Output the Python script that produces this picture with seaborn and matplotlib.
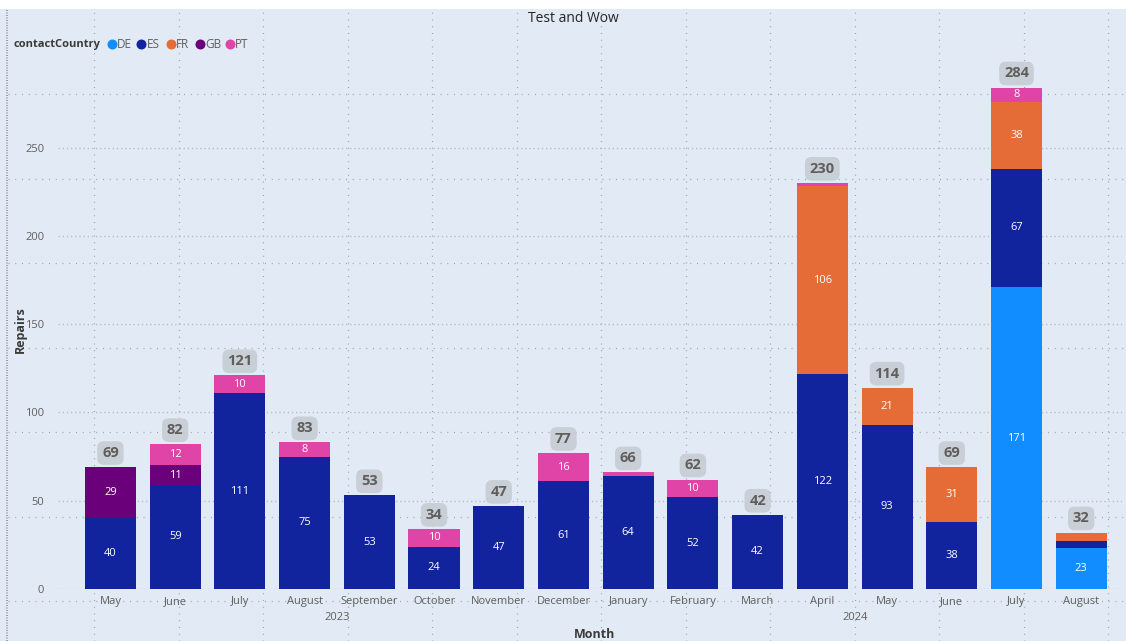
import matplotlib
matplotlib.use("Agg")
import matplotlib.pyplot as plt
from matplotlib.lines import Line2D
from matplotlib.patches import Rectangle
import numpy as np
import pandas as pd
import seaborn as sns

# ---- data -------------------------------------------------------------
periods = ["2023-05", "2023-06", "2023-07", "2023-08", "2023-09", "2023-10",
           "2023-11", "2023-12", "2024-01", "2024-02", "2024-03", "2024-04",
           "2024-05", "2024-06", "2024-07", "2024-08"]
month_labels = ["May", "June", "July", "August", "September", "October",
                "November", "December", "January", "February", "March",
                "April", "May", "June", "July", "August"]
years = ["2023", "2024"]
year_spans = [(0, 7), (8, 15)]

countries = ["DE", "ES", "FR", "GB", "PT"]
de = [0, 0, 0, 0, 0, 0, 0, 0, 0, 0, 0, 0, 0, 0, 171, 23]
es = [40, 59, 111, 75, 53, 24, 47, 61, 64, 52, 42, 122, 93, 38, 67, 4]
fr = [0, 0, 0, 0, 0, 0, 0, 0, 0, 0, 0, 106, 21, 31, 38, 5]
gb = [29, 11, 0, 0, 0, 0, 0, 0, 0, 0, 0, 0, 0, 0, 0, 0]
pt = [0, 12, 10, 8, 0, 10, 0, 16, 2, 10, 0, 2, 0, 0, 8, 0]

palette = {"DE": "#118DFF", "ES": "#12239E", "FR": "#E66C37",
           "GB": "#6B007B", "PT": "#E044A7"}

df = pd.DataFrame({"period": periods, "DE": de, "ES": es, "FR": fr,
                   "GB": gb, "PT": pt})
cum = df[countries].cumsum(axis=1)
totals = cum[countries[-1]]

# ---- figure -----------------------------------------------------------
W, H = 1126, 641
BG = "#E2EBF5"
TXT = "#605E5C"
DARK = "#252423"

sns.set_style("white")
plt.rcParams["font.family"] = ["Open Sans", "DejaVu Sans"]

fig = plt.figure(figsize=(W / 100, H / 100), dpi=100, facecolor=BG)

def px(x, y):
    return x / W, 1 - y / H

# white strip along the top and dotted frame edge
fig.add_artist(Rectangle((0, 1 - 9 / H), 1, 9 / H, transform=fig.transFigure,
                         facecolor="white", edgecolor="none", zorder=0))
fig.add_artist(Line2D([7 / W, 7 / W], [0, 1 - 10 / H], transform=fig.transFigure,
                      color="#8A9099", lw=1.2, ls=(0, (0.6, 0.9)), zorder=0))

# canvas snap grid
gpos = 9.8 + 84.5 * np.arange(0, 14)
for g in gpos:
    if 10 < g < W:
        fig.add_artist(Line2D([g / W, g / W], [0, 1 - 10 / H],
                              transform=fig.transFigure, color="#9EA4AC",
                              lw=0.9, ls=(0, (0.8, 4.6)), zorder=0))
    if 10 < g < H:
        fig.add_artist(Line2D([8 / W, 1], [1 - g / H, 1 - g / H],
                              transform=fig.transFigure, color="#9EA4AC",
                              lw=0.9, ls=(0, (0.8, 4.6)), zorder=0))

ax_left, ax_right, ax_top, ax_bottom = 58, 1122, 77, 589
ax = fig.add_axes([ax_left / W, 1 - ax_bottom / H,
                   (ax_right - ax_left) / W, (ax_bottom - ax_top) / H])
ax.patch.set_visible(False)

# stacked bars: draw cumulative heights from the top layer down
for c in reversed(countries):
    sns.barplot(x=df["period"], y=cum[c], order=periods, color=palette[c],
                width=0.79, saturation=1, ax=ax, edgecolor="none", zorder=3)

ax.set_xlim(-0.81, 15.63)
ax.set_ylim(0, 290)

# segment labels
bottoms = np.zeros(len(periods))
for c in countries:
    vals = df[c].to_numpy()
    for i, v in enumerate(vals):
        if v >= 8:
            ax.text(i, bottoms[i] + v / 2, str(v), ha="center", va="center",
                    color="white", fontsize=8, zorder=5)
    bottoms += vals

# total labels
for i, t in enumerate(totals):
    ax.text(i, t + 8, str(int(t)), ha="center", va="center", color=TXT,
            fontsize=10.5, fontweight="bold", zorder=6,
            bbox=dict(boxstyle="round,pad=0.33,rounding_size=0.45",
                      fc="#C9CFD6", ec="none"))

# axes styling
sns.despine(ax=ax, left=True, bottom=True)
ax.set_yticks([0, 50, 100, 150, 200, 250])
ax.set_yticklabels(["0", "50", "100", "150", "200", "250"])
ax.tick_params(axis="y", length=0, pad=10, labelsize=8, labelcolor=TXT)
ax.set_xticks(range(len(periods)))
ax.set_xticklabels(month_labels)
ax.tick_params(axis="x", length=0, pad=5, labelsize=8, labelcolor=TXT)
ax.grid(axis="y", color="#B9BFC7", lw=1.0, ls=(0, (1, 2)), zorder=1)
ax.grid(axis="x", visible=False)
ax.set_axisbelow(True)
ax.set_xlabel("")
ax.set_ylabel("")

# year row
for yr, (a, b) in zip(years, year_spans):
    ax.text((a + b) / 2, -16.2, yr, ha="center", va="center", fontsize=8,
            color=TXT, clip_on=False)

# axis titles
fig.text(*px(595, 634), "Month", ha="center", va="center", fontsize=9,
         fontweight="bold", color="#3B3A39")
fig.text(*px(20, 330), "Repairs", ha="center", va="center", fontsize=9,
         fontweight="bold", color="#3B3A39", rotation=90)

# chart title
fig.text(*px(573, 18), "Test and Wow", ha="center", va="center",
         fontsize=10, color=DARK)

# legend: title, then a colour dot and label per country
fig.text(*px(14, 44), "contactCountry", ha="left", va="center", fontsize=8,
         fontweight="bold", color="#3B3A39")
dot_x = [111.5, 141.5, 170.5, 199.5, 229.5]
for c, x in zip(countries, dot_x):
    fig.add_artist(Line2D([x / W], [1 - 44 / H], transform=fig.transFigure,
                          marker="o", ls="none", markersize=7.2,
                          markerfacecolor=palette[c], markeredgecolor="none"))
    fig.text(*px(x + 5.5, 44.5), c, ha="left", va="center", fontsize=8.5,
             color=TXT)

fig.savefig("out.png", dpi=100, facecolor=BG)
